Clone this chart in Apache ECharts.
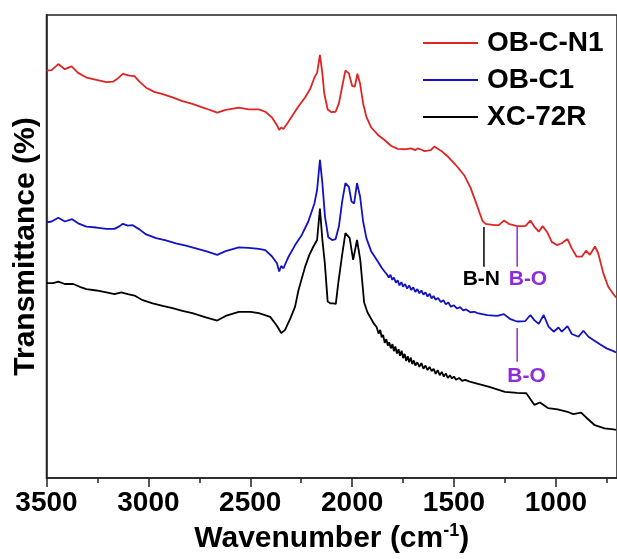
<!DOCTYPE html>
<html>
<head>
<meta charset="utf-8">
<script src="https://cdn.jsdelivr.net/npm/echarts@6/dist/echarts.min.js"></script>
<style>
  html, body { margin: 0; padding: 0; background: #fff; }
  #chart { width: 617px; height: 559px; }
</style>
</head>
<body>
<div id="chart"></div>
<script>
// ---------- data (wavenumber cm-1, transmittance a.u.) ----------
const seriesNames = ['OB-C-N1', 'OB-C1', 'XC-72R'];
const majorTicks = [3500, 3000, 2500, 2000, 1500, 1000];
const minorTicks = [3250, 2750, 2250, 1750, 1250, 750];

const obcn1 = [
[3500,88.0],[3475,88.1],[3442,89.4],[3410,88.3],[3377,88.9],[3345,87.5],[3304,86.5],[3255,86.0],[3206,85.5],[3174,85.6],
[3150,86.3],[3125,87.3],[3093,86.9],[3068,86.8],[3044,85.6],[3011,84.3],[2971,83.4],[2930,82.9],[2881,82.2],[2833,81.4],
[2784,80.8],[2718,79.8],[2662,78.9],[2621,79.5],[2556,80.0],[2507,79.6],[2458,79.6],[2426,79.1],[2394,77.9],[2369,76.2],
[2358,75.2],[2348,75.7],[2337,75.4],[2312,77.0],[2288,78.6],[2263,80.3],[2231,82.2],[2206,84.0],[2185,86.5],[2172,87.5],
[2158,91.4],[2146,87.4],[2137,83.1],[2120,79.6],[2101,79.0],[2081,79.1],[2065,80.9],[2049,84.5],[2033,88.0],[2016,87.4],
[2000,84.7],[1987,84.5],[1974,87.3],[1961,85.2],[1946,80.9],[1930,78.0],[1906,75.7],[1873,74.1],[1841,73.0],[1808,71.7],
[1776,71.1],[1743,71.0],[1711,71.2],[1690,70.8],[1678,71.2],[1660,70.9],[1645,70.6],[1613,70.8],[1597,71.6],[1564,70.7],
[1532,69.5],[1491,67.6],[1450,65.4],[1418,62.6],[1385,58.6],[1361,55.6],[1345,54.9],[1304,54.6],[1280,54.6],[1255,55.6],
[1231,54.9],[1190,54.4],[1150,54.4],[1125,55.6],[1106,54.3],[1084,53.2],[1065,54.4],[1044,53.2],[1020,51.0],[995,50.3],
[971,50.7],[943,51.6],[922,49.6],[898,47.8],[873,47.8],[852,49.1],[833,48.2],[808,50.0],[792,48.5],[767,44.2],
[743,41.3],[717,39.7],[705,39.0]
];

const obc1 = [
[3500,55.2],[3475,55.4],[3442,56.2],[3410,55.4],[3374,55.9],[3345,55.0],[3304,54.3],[3255,54.1],[3206,53.8],[3166,53.8],
[3141,54.4],[3125,54.9],[3101,54.5],[3077,54.6],[3044,53.7],[3011,52.6],[2962,51.8],[2914,51.3],[2865,50.7],[2816,50.2],
[2767,49.6],[2718,49.0],[2662,48.2],[2621,49.0],[2556,49.8],[2507,49.7],[2458,49.5],[2426,49.2],[2394,47.9],[2369,46.4],
[2358,44.6],[2348,45.8],[2337,45.3],[2312,47.8],[2280,50.3],[2247,52.5],[2215,55.4],[2185,59.3],[2172,62.2],[2158,68.7],
[2146,63.7],[2133,56.4],[2117,52.0],[2098,51.4],[2081,51.6],[2065,54.3],[2049,59.7],[2033,63.7],[2016,62.9],[2003,59.7],
[1990,59.3],[1976,63.7],[1961,60.8],[1946,55.4],[1930,51.8],[1906,48.9],[1873,46.7],[1855,45.4],[1841,44.6],[1830,44.0],
[1820,43.3],[1812,43.9],[1803,42.8],[1795,43.3],[1785,42.2],[1776,42.7],[1768,41.6],[1758,42.3],[1750,41.3],[1740,41.9],
[1730,40.9],[1720,41.6],[1710,40.6],[1700,41.2],[1690,40.2],[1680,40.8],[1670,39.9],[1660,40.5],[1650,39.6],[1640,40.1],
[1630,39.2],[1620,39.8],[1610,38.8],[1600,39.3],[1590,38.5],[1578,38.9],[1565,38.0],[1552,38.4],[1540,37.5],[1528,37.9],
[1515,37.0],[1500,37.3],[1485,36.6],[1470,36.9],[1455,36.2],[1440,36.4],[1420,35.8],[1400,35.9],[1385,35.6],[1337,35.2],
[1288,35.0],[1255,35.4],[1223,34.3],[1190,33.8],[1150,33.9],[1125,35.2],[1106,34.1],[1084,33.3],[1060,35.2],[1036,32.7],
[1011,31.6],[987,32.5],[971,31.6],[943,32.8],[922,31.1],[889,30.5],[865,31.8],[840,30.5],[816,29.8],[784,28.9],
[751,28.0],[717,27.4],[705,27.1]
];

const xc72r = [
[3500,42.1],[3467,42.1],[3442,42.4],[3410,41.9],[3369,41.9],[3337,41.3],[3304,40.8],[3255,40.5],[3206,40.1],[3166,39.7],
[3133,40.1],[3101,39.7],[3068,39.4],[3028,38.4],[2979,37.7],[2930,37.2],[2881,36.7],[2833,36.1],[2784,35.6],[2718,34.7],
[2662,34.0],[2621,35.0],[2556,35.9],[2498,35.9],[2458,35.6],[2402,34.8],[2371,33.0],[2348,31.3],[2329,32.0],[2302,34.6],
[2280,37.0],[2263,40.6],[2231,45.6],[2210,48.2],[2190,50.0],[2172,51.4],[2158,58.2],[2146,51.4],[2134,46.4],[2120,38.1],
[2105,37.7],[2093,37.7],[2080,37.6],[2068,42.1],[2049,48.2],[2033,52.9],[2012,51.8],[1995,47.1],[1976,51.4],[1960,47.1],
[1941,37.9],[1925,35.8],[1894,33.4],[1880,32.6],[1870,31.2],[1862,32.0],[1855,30.4],[1848,30.9],[1840,29.2],[1832,30.0],
[1825,28.6],[1818,29.3],[1810,28.0],[1802,28.9],[1795,27.4],[1788,28.4],[1780,26.9],[1772,27.8],[1765,26.4],[1757,27.5],
[1750,25.9],[1742,26.8],[1735,25.3],[1727,26.3],[1720,25.0],[1712,26.0],[1705,24.6],[1697,25.4],[1690,24.3],[1680,25.0],
[1670,24.0],[1660,24.8],[1650,23.6],[1640,24.3],[1630,23.3],[1620,24.0],[1610,23.1],[1600,23.6],[1590,22.5],[1580,23.3],
[1570,22.2],[1560,22.9],[1550,21.9],[1540,22.6],[1530,21.6],[1520,22.2],[1510,21.5],[1500,21.9],[1490,21.2],[1475,21.6],
[1460,21.0],[1445,21.2],[1423,20.8],[1327,19.7],[1250,18.6],[1190,18.4],[1145,18.3],[1106,15.8],[1078,16.3],[1039,15.1],
[991,14.8],[943,14.3],[915,13.8],[876,14.1],[847,12.9],[809,11.4],[761,10.7],[717,10.5],[705,10.4]
];

// annotations: [label, line wavenumber, line top, line bottom, label wavenumber, label value, colour key]
const annotations = [
  ['B-N', 1353, 54.2, 45.6, 1366, 43.0, 'black'],
  ['B-O', 1190, 54.2, 45.6, 1137, 43.0, 'purple'],
  ['B-O', 1190, 32.4, 25.1, 1144, 22.0, 'purple']
];

// ---------- chart ----------
const FONT = '"Liberation Sans", Arial, sans-serif';
const colors = ['#e02424', '#1212c4', '#000000'];
const annColors = { black: '#000000', purple: '#8e2bdc' };
const chart = echarts.init(document.getElementById('chart'), null, { renderer: 'canvas' });

const series = [obcn1, obc1, xc72r].map((d, i) => ({
  name: seriesNames[i], type: 'line', xAxisIndex: 0, yAxisIndex: 0,
  data: d, showSymbol: false, symbol: 'none', smooth: false,
  lineStyle: { color: colors[i], width: 1.8 }, itemStyle: { color: colors[i] },
  z: 3 - i
}));

annotations.forEach(a => {
  const c = annColors[a[6]];
  series.push({
    type: 'line', xAxisIndex: 0, yAxisIndex: 0, symbol: 'none', showSymbol: false,
    data: [[a[1], a[2]], [a[1], a[3]]],
    lineStyle: { color: c, width: 1.5 }, silent: true
  });
  series.push({
    type: 'scatter', xAxisIndex: 0, yAxisIndex: 0, symbolSize: 1,
    itemStyle: { color: 'rgba(0,0,0,0)', opacity: 1 },
    data: [[a[4], a[5]]], silent: true,
    label: { show: true, position: 'inside', formatter: a[0], color: c, opacity: 1,
             textBorderWidth: 0, fontSize: 21, fontWeight: 'bold', fontFamily: FONT }
  });
});

const axisFont = { fontFamily: FONT, fontWeight: 'bold', color: '#000' };

chart.setOption({
  animation: false,
  backgroundColor: '#ffffff',
  grid: [
    { left: 46.5, right: -3, top: 15, bottom: 81, show: true, borderColor: '#222', borderWidth: 1.5, backgroundColor: 'transparent' },
    { left: 46.5, right: -3, top: 15, bottom: 81, show: false }
  ],
  legend: {
    data: seriesNames, orient: 'vertical', left: 423, top: 29, padding: 0,
    icon: 'rect', itemWidth: 55, itemHeight: 2, itemGap: 9,
    textStyle: Object.assign({ fontSize: 28, lineHeight: 28, padding: [0, 0, 0, 4] }, axisFont)
  },
  xAxis: [
    {
      gridIndex: 0, type: 'value', min: 700, max: 3500, inverse: true, position: 'bottom',
      axisLine: { show: true, lineStyle: { color: '#222', width: 1.5 } },
      axisTick: { show: true, customValues: majorTicks, length: 9, inside: false, lineStyle: { color: '#222', width: 1.5 } },
      axisLabel: Object.assign({ customValues: majorTicks, fontSize: 28, margin: 11, formatter: v => String(v) }, axisFont),
      splitLine: { show: false },
      name: '{a|Wavenumber (cm}{s|-1}{a|)}', nameLocation: 'middle', nameGap: 43,
      nameTextStyle: { rich: {
        a: Object.assign({ fontSize: 30, lineHeight: 34 }, axisFont),
        s: Object.assign({ fontSize: 18, lineHeight: 20, verticalAlign: 'top' }, axisFont)
      } }
    },
    {
      gridIndex: 1, type: 'value', min: 700, max: 3500, inverse: true, position: 'bottom',
      axisLine: { show: false },
      axisTick: { show: true, customValues: minorTicks, length: 5, inside: false, lineStyle: { color: '#222', width: 1.5 } },
      axisLabel: { show: false }, splitLine: { show: false }
    }
  ],
  yAxis: [
    {
      gridIndex: 0, type: 'value', min: 0, max: 100,
      axisLine: { show: true, lineStyle: { color: '#222', width: 1.5 } },
      axisTick: { show: false }, axisLabel: { show: false }, splitLine: { show: false },
      name: 'Transmittance (%)', nameLocation: 'middle', nameGap: 6,
      nameTextStyle: Object.assign({ fontSize: 30 }, axisFont)
    },
    {
      gridIndex: 1, type: 'value', min: 0, max: 100, show: false
    }
  ],
  series: series
});
</script>
</body>
</html>
